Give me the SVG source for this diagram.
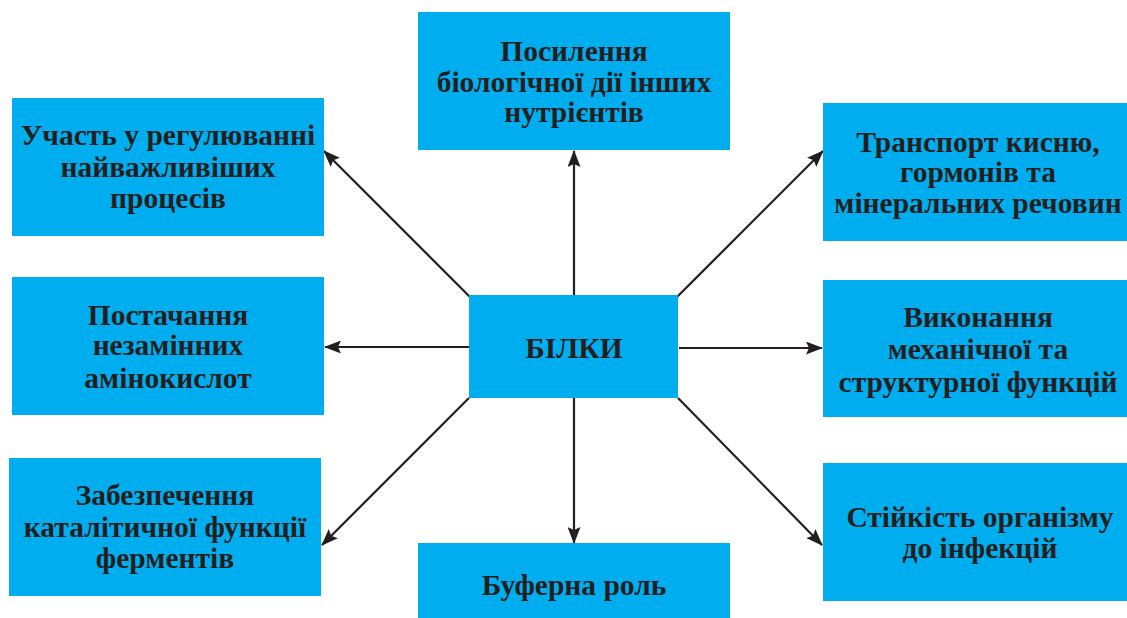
<svg xmlns="http://www.w3.org/2000/svg" width="1127" height="618" viewBox="0 0 1127 618">
<defs>
<style>
.box{fill:#00aeef;}
.t{font-family:"Liberation Serif","DejaVu Serif",serif;font-weight:bold;font-size:29.5px;fill:#231f20;text-anchor:middle;}
.c{stroke:#231f20;stroke-width:2.2;fill:none;marker-end:url(#ah);}
</style>
<marker id="ah" markerWidth="17" markerHeight="13" refX="16" refY="6.5" orient="auto" markerUnits="userSpaceOnUse">
<path d="M0,0 L17,6.5 L0,13 L3,6.5 Z" fill="#231f20"/>
</marker>
</defs>
<rect width="1127" height="618" fill="#ffffff"/>
<g id="connectors">
<line class="c" x1="470" y1="297" x2="324" y2="151"/>
<line class="c" x1="574" y1="295" x2="574" y2="151"/>
<line class="c" x1="677" y1="297" x2="823" y2="151"/>
<line class="c" x1="469" y1="347" x2="325" y2="347"/>
<line class="c" x1="679" y1="348" x2="822" y2="348"/>
<line class="c" x1="469" y1="398" x2="322" y2="545"/>
<line class="c" x1="574" y1="398" x2="574" y2="543"/>
<line class="c" x1="678" y1="398" x2="822" y2="545"/>
</g>
<g id="center">
<rect class="box" x="469" y="295" width="209" height="103"/>
<text class="t" x="574" y="358">БІЛКИ</text>
</g>
<g id="n-top">
<rect class="box" x="418" y="12" width="312" height="138"/>
<text class="t" x="574" y="61">Посилення</text>
<text class="t" x="574" y="92">біологічної дії інших</text>
<text class="t" x="574" y="122">нутрієнтів</text>
</g>
<g id="n-topleft">
<rect class="box" x="12" y="98" width="312" height="138"/>
<text class="t" x="168" y="145">Участь у регулюванні</text>
<text class="t" x="168" y="177">найважливіших</text>
<text class="t" x="168" y="208">процесів</text>
</g>
<g id="n-topright">
<rect class="box" x="823" y="103" width="304" height="138"/>
<text class="t" x="978" y="152">Транспорт кисню,</text>
<text class="t" x="978" y="182">гормонів та</text>
<text class="t" x="978" y="213">мінеральних речовин</text>
</g>
<g id="n-left">
<rect class="box" x="12" y="277" width="312" height="138"/>
<text class="t" x="168" y="325">Постачання</text>
<text class="t" x="168" y="355">незамінних</text>
<text class="t" x="168" y="388">амінокислот</text>
</g>
<g id="n-right">
<rect class="box" x="823" y="280" width="304" height="137"/>
<text class="t" x="978" y="327">Виконання</text>
<text class="t" x="978" y="359">механічної та</text>
<text class="t" x="978" y="392">структурної функцій</text>
</g>
<g id="n-bottomleft">
<rect class="box" x="9" y="458" width="312" height="138"/>
<text class="t" x="165" y="505">Забезпечення</text>
<text class="t" x="165" y="537">каталітичної функції</text>
<text class="t" x="165" y="568">ферментів</text>
</g>
<g id="n-bottom">
<rect class="box" x="418" y="543" width="312" height="75"/>
<text class="t" x="574" y="595">Буферна роль</text>
</g>
<g id="n-bottomright">
<rect class="box" x="823" y="463" width="304" height="138"/>
<text class="t" x="980" y="527">Стійкість організму</text>
<text class="t" x="980" y="558">до інфекцій</text>
</g>
</svg>
